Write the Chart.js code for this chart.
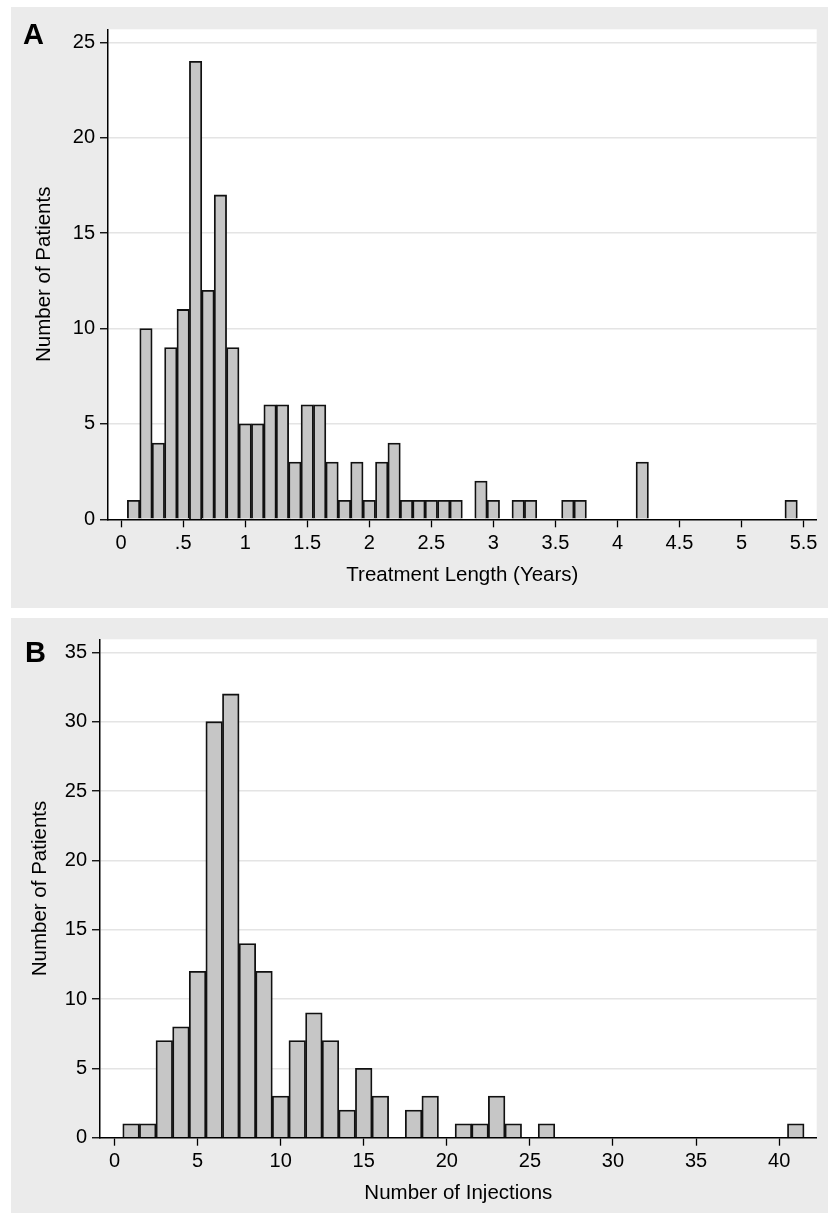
<!DOCTYPE html>
<html>
<head>
<meta charset="utf-8">
<script src="https://cdn.jsdelivr.net/npm/chart.js@4.4.1/dist/chart.umd.min.js"></script>
<style>
  body { margin: 0; background: #fff; width: 828px; height: 1214px; position: relative; overflow: hidden; font-family: "Liberation Sans", Arial, sans-serif; }
  .panel { position: absolute; left: 11px; width: 817px; background: #ebebeb; }
  #panelA { top: 7px; height: 601px; }
  #panelB { top: 618px; height: 595px; }
  .panel canvas { position: absolute; left: 0; top: 0; }
  .tag { position: absolute; font-weight: bold; font-size: 29px; line-height: 1; color: #000; }
</style>
</head>
<body>
<div class="panel" id="panelA"><canvas id="histA" width="817" height="601"></canvas></div>
<div class="panel" id="panelB"><canvas id="histB" width="817" height="595"></canvas></div>
<div class="tag" style="left:23px;top:20px">A</div>
<div class="tag" style="left:25px;top:638px">B</div>
<script>
// panel A: treatment length (years), bins of 0.1
const lengthBins = [0.1, 0.2, 0.3, 0.4, 0.5, 0.6, 0.7, 0.8, 0.9, 1.0,
  1.1, 1.2, 1.3, 1.4, 1.5, 1.6, 1.7, 1.8, 1.9, 2.0,
  2.1, 2.2, 2.3, 2.4, 2.5, 2.6, 2.7, 2.9, 3.0, 3.2, 3.3, 3.6, 3.7, 4.2, 5.4];
const lengthCounts = [1, 10, 4, 9, 11, 24, 12, 17, 9, 5,
  5, 6, 6, 3, 6, 6, 3, 1, 3, 1,
  3, 4, 1, 1, 1, 1, 1, 2, 1, 1, 1, 1, 1, 3, 1];
const lengthTicks = [0, 0.5, 1, 1.5, 2, 2.5, 3, 3.5, 4, 4.5, 5, 5.5];
const lengthTickLabels = ['0', '.5', '1', '1.5', '2', '2.5', '3', '3.5', '4', '4.5', '5', '5.5'];
const patientTicksA = [0, 5, 10, 15, 20, 25];

// panel B: number of injections, bins of 1
const injectionBins = [1, 2, 3, 4, 5, 6, 7, 8, 9, 10, 11, 12, 13, 14, 15, 16,
  18, 19, 21, 22, 23, 24, 26, 41];
const injectionCounts = [1, 1, 7, 8, 12, 30, 32, 14, 12, 3, 7, 9, 7, 2, 5, 3,
  2, 3, 1, 1, 3, 1, 1, 1];
const injectionTicks = [0, 5, 10, 15, 20, 25, 30, 35, 40];
const injectionTickLabels = ['0', '5', '10', '15', '20', '25', '30', '35', '40'];
const patientTicksB = [0, 5, 10, 15, 20, 25, 30, 35];

const FONT = '"Liberation Sans", Arial, sans-serif';

const plotBg = {
  id: 'plotBg',
  beforeDraw(chart) {
    const { ctx, chartArea: a } = chart;
    ctx.save();
    ctx.fillStyle = '#fff';
    ctx.fillRect(a.left, a.top, a.right - a.left, a.bottom - a.top);
    ctx.restore();
  }
};

function histogram(id, bins, counts, xTicks, xLabels, yTicks, box) {
  return new Chart(document.getElementById(id), {
    type: 'bar',
    data: {
      datasets: [{
        data: bins.map((b, i) => ({ x: b, y: counts[i] })),
        backgroundColor: '#c6c6c6',
        borderColor: '#111',
        borderWidth: 1.8,
        barPercentage: 1,
        categoryPercentage: 1
      }]
    },
    options: {
      responsive: false,
      animation: false,
      layout: { padding: { top: box.top, right: box.right, left: 0, bottom: 0 } },
      plugins: { legend: { display: false }, tooltip: { enabled: false } },
      scales: {
        x: {
          type: 'linear',
          min: box.xMin,
          max: box.xMax,
          offset: false,
          afterBuildTicks: s => { s.ticks = xTicks.map(v => ({ value: v })); },
          afterFit: s => { s.height = box.xAxisH; },
          ticks: {
            autoSkip: false, maxRotation: 0, padding: 4, color: '#000',
            font: { family: FONT, size: 20 },
            callback: (v, i) => xLabels[i]
          },
          grid: { offset: false, drawOnChartArea: false, tickLength: 8, tickColor: '#000', tickWidth: 1.3 },
          border: { color: '#000', width: 1.5 },
          title: {
            display: true, text: box.xTitle, color: '#000',
            font: { family: FONT, size: 20.5 },
            padding: { top: 0, bottom: box.xTitlePad }
          }
        },
        y: {
          min: 0,
          max: box.yMax,
          afterBuildTicks: s => { s.ticks = yTicks.map(v => ({ value: v })); },
          afterFit: s => { s.width = box.yAxisW; },
          ticks: {
            padding: 5, color: '#000',
            font: { family: FONT, size: 20 },
            callback: v => String(v)
          },
          grid: {
            color: c => (c.tick && c.tick.value === 0) ? 'rgba(0,0,0,0)' : '#e4e4e4',
            lineWidth: 1.5,
            tickLength: 8, tickColor: '#000', tickWidth: 1.3
          },
          border: { color: '#000', width: 1.5 },
          title: {
            display: true, text: 'Number of Patients', color: '#000',
            font: { family: FONT, size: 20.5 },
            padding: { top: box.yTitlePad, bottom: 0 }
          }
        }
      }
    },
    plugins: [plotBg]
  });
}

histogram('histA', lengthBins, lengthCounts, lengthTicks, lengthTickLabels, patientTicksA, {
  top: 22.3, right: 11.3, xAxisH: 88.7, yAxisW: 97,
  xMin: -0.106, xMax: 5.606, yMax: 25.68,
  xTitle: 'Treatment Length (Years)', xTitlePad: 20.7, yTitlePad: 20.7
});

histogram('histB', injectionBins, injectionCounts, injectionTicks, injectionTickLabels, patientTicksB, {
  top: 21.3, right: 11.3, xAxisH: 75.3, yAxisW: 89,
  xMin: -0.87, xMax: 42.26, yMax: 35.94,
  xTitle: 'Number of Injections', xTitlePad: 7.7, yTitlePad: 16.7
});
</script>
</body>
</html>
